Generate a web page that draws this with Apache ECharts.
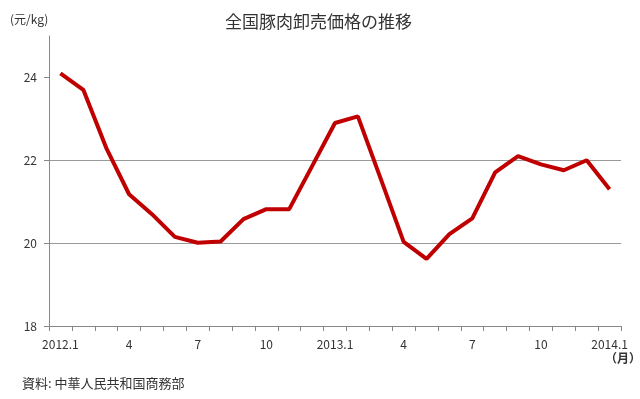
<!DOCTYPE html>
<html>
<head>
<meta charset="utf-8">
<script src="https://cdn.jsdelivr.net/npm/echarts@6/dist/echarts.min.js"></script>
<style>
    html, body { margin: 0; padding: 0; background: #ffffff; }
    #chart { width: 640px; height: 399px; }
</style>
</head>
<body>
<div id="chart"></div>
<script>
    // months 2012.1 - 2014.1
    var months = ['2012.1', '2', '3', '4', '5', '6', '7', '8', '9', '10', '11', '12',
        '2013.1', '2', '3', '4', '5', '6', '7', '8', '9', '10', '11', '12', '2014.1'];
    // wholesale pork price (yuan/kg)
    var prices = [24.1, 23.7, 22.3, 21.18, 20.7, 20.15, 20.01, 20.04, 20.58, 20.82, 20.82, 21.86,
        22.9, 23.06, 21.55, 20.03, 19.62, 20.22, 20.6, 21.71, 22.1, 21.9, 21.76, 22.0, 21.3];
    var yTicks = [18, 20, 22, 24];

    var font = '"Noto Sans CJK JP", "Noto Sans", sans-serif';
    var textColor = '#333333';

    var chart = echarts.init(document.getElementById('chart'));
    var option = {
        backgroundColor: '#ffffff',
        animation: false,
        textStyle: { fontFamily: font },
        title: {
            text: '全国豚肉卸売価格の推移',
            left: 220,
            top: 8,
            textStyle: { fontSize: 17, fontWeight: 'normal', color: textColor, fontFamily: font }
        },
        graphic: [
            {
                type: 'text', left: 10, top: 13,
                style: { text: '(元/kg)', fontSize: 12, fill: textColor, fontFamily: font }
            },
            {
                type: 'text', left: 605, top: 352,
                style: { text: '（月）', fontSize: 12, fontWeight: 'bold', fill: textColor, fontFamily: font }
            },
            {
                type: 'text', left: 22, top: 377,
                style: { text: '資料: 中華人民共和国商務部', fontSize: 13, fill: textColor, fontFamily: font }
            }
        ],
        grid: { left: 49, right: 19, top: 36, bottom: 73 },
        xAxis: {
            type: 'category',
            data: months,
            boundaryGap: true,
            axisLine: { lineStyle: { color: '#888888', width: 1 } },
            axisTick: { show: true, interval: 0, length: 5, lineStyle: { color: '#888888' } },
            axisLabel: { interval: 2, color: textColor, fontSize: 12, margin: 12, fontFamily: font }
        },
        yAxis: {
            type: 'value',
            min: 18,
            max: 25,
            interval: 2,
            axisLine: { show: true, lineStyle: { color: '#888888', width: 1 } },
            axisTick: { show: true, length: 5, customValues: yTicks, lineStyle: { color: '#888888' } },
            axisLabel: { color: textColor, fontSize: 12, margin: 12, customValues: yTicks, fontFamily: font },
            splitLine: { show: true, showMaxLine: false, lineStyle: { color: '#999999', width: 1 } }
        },
        series: [
            {
                name: 'price',
                type: 'line',
                data: prices,
                symbol: 'none',
                lineStyle: { color: '#c00000', width: 4 }
            }
        ]
    };
    chart.setOption(option);
</script>
</body>
</html>
